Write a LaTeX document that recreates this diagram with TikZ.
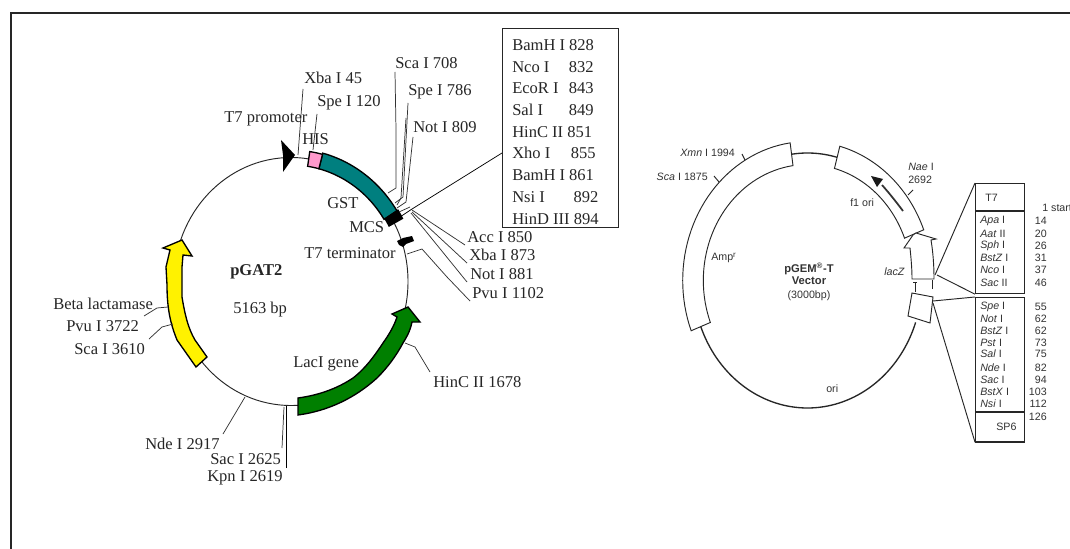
\documentclass[tikz,border=0pt]{standalone}
\usepackage{fontspec}
\setmainfont{Liberation Serif}
\setsansfont{Liberation Sans}
\newcommand{\ringband}[9][]{%
  \path[#1] plot[domain=#6:#7,samples=40,variable=\t] ({#2+#4*#8*cos(\t)},{#3+#5*#8*sin(\t)})
    -- plot[domain=#7:#6,samples=40,variable=\t] ({#2+#4*#9*cos(\t)},{#3+#5*#9*sin(\t)}) -- cycle;}
\definecolor{tealband}{HTML}{007F7F}
\definecolor{pinkband}{HTML}{FF99CC}
\definecolor{greenband}{HTML}{007F00}
\tikzset{
  x=0.75pt,y=-0.75pt,
  ls/.style={font=\fontsize{12.4}{14}\selectfont,inner sep=0pt,anchor=west,text=black!85},
  rs/.style={font=\sffamily\fontsize{8}{10}\selectfont,inner sep=0pt,anchor=west,text=black!80},
  rn/.style={rs,anchor=east},
  leader/.style={draw=black!80,line width=0.55pt},
  rline/.style={draw=black!85,line width=0.7pt},
  bandl/.style={draw=black,line width=1pt},
  bandr/.style={draw=black!85,fill=white,line width=0.7pt},
  boxst/.style={draw=black!85,line width=0.9pt,inner sep=0pt,fill=white,anchor=north west},
}
\begin{document}
\begin{tikzpicture}
\useasboundingbox (0,0) rectangle (1070,549);
\fill[white] (0,0) rectangle (1070,549);
% frame
\draw[black!85,line width=1.5pt] (10.5,549) -- (10.5,13.5) -- (1070,13.5);

%%%%%%%%%% pGAT2
\draw[black!85,line width=0.7pt] (291,281.5) ellipse [x radius=117,y radius=124];
% bands
\ringband[bandl,fill=tealband]{291}{281.5}{117}{124}{-75.3}{-32.2}{1.07}{0.94}
\ringband[bandl,fill=pinkband]{291}{281.5}{117}{124}{-81.3}{-75.3}{1.06}{0.94}
\ringband[bandl,fill=black]{291}{281.5}{117}{124}{-32.2}{-28.1}{1.08}{0.95}
% T7 promoter arrow
\fill[black] (281,140) -- (295,155) -- (283,172) -- (283,155) -- cycle;
% T7 terminator
\fill[black] (397,241) -- (403,238) -- (412,236) -- (414,241) -- (406,244) -- (403,247) -- (399,245) -- cycle;
% yellow arrow
\draw[bandl,fill=yellow] (182,240) -- (192,256) -- (183,255) -- (182,267) -- (182,297) .. controls (185,315) and (188,328) .. (195,340) -- (207,357) -- (196,367) -- (177,340) .. controls (171,325) and (167,310) .. (167,285) -- (166,267) -- (170,250) -- (163,248) -- cycle;
% green arrow
\draw[bandl,fill=greenband] (408,307) -- (420,322) -- (412,322) .. controls (410,332) and (406,338) .. (403,343) .. controls (396,356) and (388,367) .. (377,378) .. controls (355,398) and (328,411) .. (298,415) -- (298,398) .. controls (320,395) and (338,388) .. (353,378) .. controls (366,368) and (375,355) .. (383,343) .. controls (390,333) and (394,326) .. (397,317) -- (392,314) -- cycle;

% labels, upper
\node[ls] (xba) at (304,78) {Xba I 45};
\node[ls] (spe) at (317,103) {Spe I 120};
\node[ls] (sca) at (395,63) {Sca I 708};
\node[ls] (spb) at (408,92) {Spe I 786};
\node[ls] (not) at (413,127) {Not I 809};
\node[ls] (t7p) at (224,119) {T7 promoter};
\node[ls] (his) at (302,139) {HIS};
\node[ls] (gst) at (327,203) {GST};
\node[ls] (mcs) at (349,227) {MCS};
\node[ls] (t7t) at (304,253) {T7 terminator};
\node[ls] (acc) at (467,237) {Acc I 850};
\node[ls] (xbb) at (469,255) {Xba I 873};
\node[ls] (nob) at (470,274) {Not I 881};
\node[ls] (pvu) at (472,293) {Pvu I 1102};
\node[ls] (hin) at (433,382) {HinC II 1678};
\node[ls] (lac) at (293,364) {LacI gene};
\node[ls,font=\bfseries\fontsize{12.4}{14}\selectfont] (gat) at (230,272) {pGAT2};
\node[ls] (siz) at (233,310) {5163 bp};
\node[ls] (bet) at (53,304) {Beta lactamase};
\node[ls] (pvb) at (66,326) {Pvu I 3722};
\node[ls] (scb) at (74,349) {Sca I 3610};
\node[ls] (nde) at (145,444) {Nde I 2917};
\node[ls] (sac) at (210,459) {Sac I 2625};
\node[ls] (kpn) at (207,478) {Kpn I 2619};

% MCS box
\node[boxst,minimum width=87pt,minimum height=149.25pt] (mcsbox) at (502,28) {};
\foreach \i/\yy/\txt in {1/45/{BamH I 828},2/67/{\makebox[42.5pt][l]{Nco I}832},3/88/{\makebox[42.5pt][l]{EcoR I}843},4/110/{\makebox[42.5pt][l]{Sal I}849},5/132/{HinC II 851},6/153/{\makebox[44pt][l]{Xho I}855},7/175/{BamH I 861},8/197/{\makebox[46pt][l]{Nsi I}892},9/219/{HinD III 894}}
  \node[ls] (mr\i) at (512,\yy) {\txt};

% leaders
\coordinate (a1) at (303,89); \coordinate (a2) at (298,155);
\draw[leader] (a1) -- (a2);
\coordinate (b1) at (317,114); \coordinate (b2) at (313,150);
\draw[leader] (b1) -- (b2);
\coordinate (c1) at (395,72); \coordinate (c2) at (388,193);
\draw[leader] (c1) -- (396,130) -- (396,188) -- (c2);
\coordinate (d1) at (408,103); \coordinate (d2) at (395,203);
\draw[leader] (d1) -- (403,197) -- (d2);
\coordinate (e1) at (406,118); \coordinate (e2) at (397,205);
\draw[leader] (e1) -- (401,198) -- (e2);
\coordinate (f1) at (413,137); \coordinate (f2) at (397,208);
\draw[leader] (f1) -- (407,193) -- (406,202) -- (f2);
\coordinate (g1) at (502,153); \coordinate (g2) at (400,217);
\draw[leader,draw=black] (g1) -- (412,209) -- (g2);
\coordinate (g3) at (399,212);
\draw[leader] (g3) -- (410,207);
\coordinate (h1) at (465,245); \coordinate (h2) at (412,210);
\draw[leader] (h1) -- (h2);
\coordinate (i1) at (467,263); \coordinate (i2) at (412,212);
\draw[leader] (i1) -- (i2);
\coordinate (j1) at (467,282); \coordinate (j2) at (411,213);
\draw[leader] (j1) -- (j2);
\coordinate (k1) at (470,301); \coordinate (k2) at (407,254);
\draw[leader] (k1) -- (447,277) -- (422,249) -- (k2);
\coordinate (l1) at (405,343); \coordinate (l2) at (430,372);
\draw[leader] (l1) -- (415,347) -- (l2);
\coordinate (m1) at (144,316); \coordinate (m2) at (168,307);
\draw[leader] (m1) -- (157,308) -- (m2);
\coordinate (n1) at (149,339); \coordinate (n2) at (173,324);
\draw[leader] (n1) -- (162,327) -- (n2);
\coordinate (o1) at (223,434); \coordinate (o2) at (245,397);
\draw[leader] (o1) -- (o2);
\coordinate (p1) at (282,448); \coordinate (p2) at (284,407);
\draw[leader] (p1) -- (p2);
\coordinate (q1) at (286,468); \coordinate (q2) at (286,406);
\draw[leader,draw=black] (q1) -- (q2);

%%%%%%%%%% pGEM-T
\draw[rline,line width=1pt] plot[domain=19.2:158.8,samples=70,variable=\t] ({807.5+114.5*cos(\t)},{280.5+127.5*sin(\t)});
\draw[rline,line width=1pt] plot[domain=262:285,samples=20,variable=\t] ({807.5+114.5*cos(\t)},{280.5+127.5*sin(\t)});
\ringband[bandr]{807.5}{280.5}{114.5}{127.5}{158.8}{262}{1.09}{0.91}
\ringband[bandr]{807.5}{280.5}{114.5}{127.5}{-75}{-21.4}{1.09}{0.91}
% lacZ arrow
\draw[bandr] (912,279) .. controls (912,268) and (911,258) .. (910,248) -- (904,248) -- (913,235) -- (916,233) -- (936,239) -- (931,240) .. controls (933,252) and (934,265) .. (934,279) -- cycle;
% lower block
\draw[bandr] (912,293) -- (933,297) -- (930,323) -- (908,316) -- cycle;
% T ticks
\coordinate (t1) at (915,292); \coordinate (t2) at (915,282);
\draw[rline] (t1) -- (t2) (913,282) -- (917,282);
\coordinate (t3) at (932,289); \coordinate (t4) at (932,280);
\draw[rline] (t3) -- (t4);
% f1 ori arrow
\coordinate (fa) at (903,211); \coordinate (fb) at (882,185);
\draw[black!80,line width=1.3pt] (fa) .. controls (897,203) and (890,194) .. (fb);
\fill[black!90] (871,176) -- (883,179) -- (877,187) -- cycle;

% boxes
\node[boxst,minimum width=36.75pt,minimum height=82.5pt] (upbox) at (975,183) {};
\node[boxst,minimum width=36.75pt,minimum height=108pt] (lowbox) at (975,297) {};
\draw[rline,line width=1pt] (975,211) -- (1024,211);
\draw[rline,line width=1pt] (975,412) -- (1024,412);
\draw[rline,line width=1.3pt] (lowbox.south west) -- (lowbox.south east);
\coordinate (u1) at (935,275);
\coordinate (u2) at (937,275);
\coordinate (u3) at (933,301);
\coordinate (u4) at (933,303);
\draw[rline] (u1) -- (upbox.north west);
\draw[rline] (u2) -- (upbox.south west);
\draw[rline] (u3) -- (lowbox.north west);
\draw[rline] (u4) -- (lowbox.south west);

% right labels
\node[rs] (xmn) at (680,153) {\textit{Xmn} I 1994};
\node[rs,anchor=east] (scc) at (708,177) {\textit{Sca} I 1875};
\node[rs] (nae) at (908,167) {\textit{Nae} I};
\node[rs] (nan) at (908,180) {2692};
\node[rs] (fon) at (850,203) {f1 ori};
\node[rs] (amp) at (711,258) {Amp\textsuperscript{r}};
\node[rs] (laz) at (884,272) {\textit{lacZ}};
\node[rs] (ori) at (826,389) {ori};
\node[rs,anchor=center,font=\sffamily\bfseries\fontsize{8.4}{10}\selectfont] (pgm) at (809,269) {pGEM\textsuperscript{®}-T};
\node[rs,anchor=center,font=\sffamily\bfseries\fontsize{8.4}{10}\selectfont] (vec) at (809,281) {Vector};
\node[rs,anchor=center] (bps) at (809,296) {(3000bp)};
\coordinate (x1) at (742,154); \coordinate (x2) at (745,160);
\draw[rline] (x1) -- (x2);
\coordinate (y1) at (714,176); \coordinate (y2) at (719,182);
\draw[rline] (y1) -- (y2);
\coordinate (z1) at (913,190); \coordinate (z2) at (908,195);
\draw[rline] (z1) -- (z2);
\node[rs] (tsv) at (985,198) {T7};
\node[rs] (spx) at (996,427) {SP6};
\node[rs] (sta) at (1042,208) {1 start};
\foreach \i/\yy/\nm/\num in {1/221/{\textit{Apa} I}/14,2/234/{\textit{Aat} II}/20,3/246/{\textit{Sph} I}/26,4/258/{\textit{BstZ} I}/31,5/270/{\textit{Nco} I}/37,6/283/{\textit{Sac} II}/46,7/307/{\textit{Spe} I}/55,8/319/{\textit{Not} I}/62,9/331/{\textit{BstZ} I}/62,10/343/{\textit{Pst} I}/73,11/354/{\textit{Sal} I}/75,12/368/{\textit{Nde} I}/82,13/380/{\textit{Sac} I}/94,14/392/{\textit{BstX} I}/103,15/404/{\textit{Nsi} I}/112}{
  \node[rs] (en\i) at (980,\yy) {\nm};
  \node[rn] (nu\i) at (1047,\yy) {\num};
}
\node[rn] (nu16) at (1047,417) {126};
\end{tikzpicture}
\end{document}
